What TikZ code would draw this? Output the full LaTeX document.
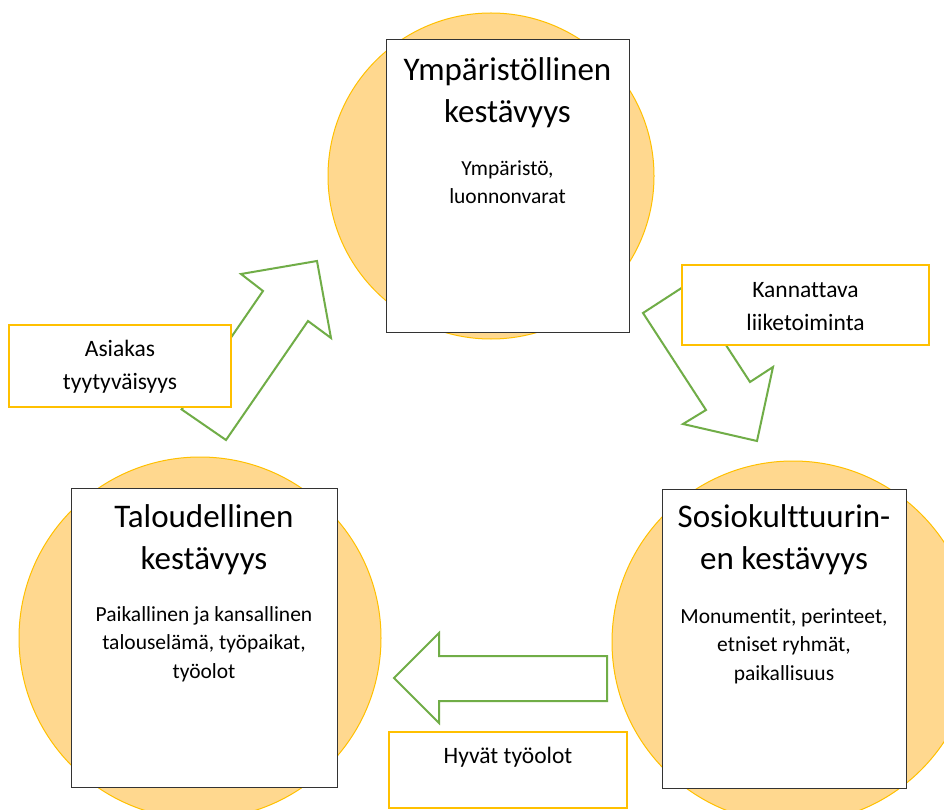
\documentclass[tikz,border=0pt]{standalone}
\usepackage{fontspec}
\setmainfont{Carlito}[Ligatures=NoCommon]
\definecolor{circfill}{RGB}{255,216,143}
\definecolor{gold}{RGB}{255,192,0}
\definecolor{agreen}{RGB}{112,173,71}
\begin{document}
\begin{tikzpicture}[x=1pt,y=-1pt,
  circ/.style={circle,draw=gold,line width=1pt,fill=circfill,inner sep=0pt},
  mainbox/.style={draw=black!80,line width=1pt,fill=white,inner sep=0pt},
  labelbox/.style={draw=gold,line width=2pt,fill=white,inner sep=0pt},
  arrowshape/.style={draw=agreen,line width=2pt,fill=white,line join=miter},
  ttl/.style={align=center,font=\fontsize{33}{42}\selectfont,inner sep=0pt},
  sub/.style={align=center,font=\fontsize{21.5}{28.5}\selectfont,inner sep=0pt},
  lbl/.style={align=center,font=\fontsize{23.5}{33}\selectfont,inner sep=0pt}]
\clip (0,0) rectangle (944,810);
\fill[white] (0,0) rectangle (944,810);
% circles
\node[circ,minimum size=326pt] (c1) at (491,176) {};
\node[circ,minimum size=362pt] (c2) at (200,638) {};
\node[circ,minimum size=362pt] (c3) at (793,642) {};
% main boxes
\node[mainbox,minimum width=243pt,minimum height=292pt] (b1) at (507.5,186) {};
\node[mainbox,minimum width=266pt,minimum height=299pt] (b2) at (204,637.5) {};
\node[mainbox,minimum width=244pt,minimum height=299pt] (b3) at (784,638.5) {};
\node[ttl] (t1) at (507.5,93) {Ympäristöllinen\\kestävyys};
\node[sub] (s1) at (507.5,182) {Ympäristö,\\luonnonvarat};
\node[ttl] (t2) at (204,540) {Taloudellinen\\kestävyys};
\node[sub] (s2) at (204,644) {Paikallinen ja kansallinen\\talouselämä, työpaikat,\\työolot};
\node[ttl] (t3) at (784,539.5) {Sosiokulttuurin-\\en kestävyys};
\node[sub] (s3) at (784,646) {Monumentit, perinteet,\\etniset ryhmät,\\paikallisuus};
% arrows
\coordinate (a1tip) at (317,261);
\coordinate (a1rc) at (331,338);
\coordinate (a1rn) at (308,321);
\coordinate (a1tr) at (226,440);
\coordinate (a1tl) at (181.6,409.4);
\coordinate (a1ln) at (263,291);
\coordinate (a1lc) at (241,274);
\draw[arrowshape] (a1tip) -- (a1rc) -- (a1rn) -- (a1tr) -- (a1tl) -- (a1ln) -- (a1lc) -- cycle;
\coordinate (a2tl) at (643,313);
\coordinate (a2ln) at (706,410);
\coordinate (a2lc) at (683,424);
\coordinate (a2tip) at (757,441);
\coordinate (a2rc) at (773,367);
\coordinate (a2rn) at (750,382);
\coordinate (a2tr) at (686.6,284.7);
\draw[arrowshape] (a2tl) -- (a2ln) -- (a2lc) -- (a2tip) -- (a2rc) -- (a2rn) -- (a2tr) -- cycle;
\coordinate (a3tip) at (394,678);
\coordinate (a3tc) at (439,633);
\coordinate (a3ts) at (439,656);
\coordinate (a3tt) at (607,656);
\coordinate (a3bt) at (607,701);
\coordinate (a3bs) at (439,701);
\coordinate (a3bc) at (439,723);
\draw[arrowshape] (a3tip) -- (a3tc) -- (a3ts) -- (a3tt) -- (a3bt) -- (a3bs) -- (a3bc) -- cycle;
% label boxes
\node[labelbox,minimum width=222pt,minimum height=82pt] (l1) at (120,366) {};
\node[lbl] (l1t) at (120,367) {Asiakas\\tyytyväisyys};
\node[labelbox,minimum width=247pt,minimum height=80pt] (l2) at (805.5,305) {};
\node[lbl] (l2t) at (805.5,306.5) {Kannattava\\liiketoiminta};
\node[labelbox,minimum width=238pt,minimum height=76pt] (l3) at (508,770) {};
\node[lbl] (l3t) at (508,757.5) {Hyvät työolot};
\end{tikzpicture}
\end{document}
